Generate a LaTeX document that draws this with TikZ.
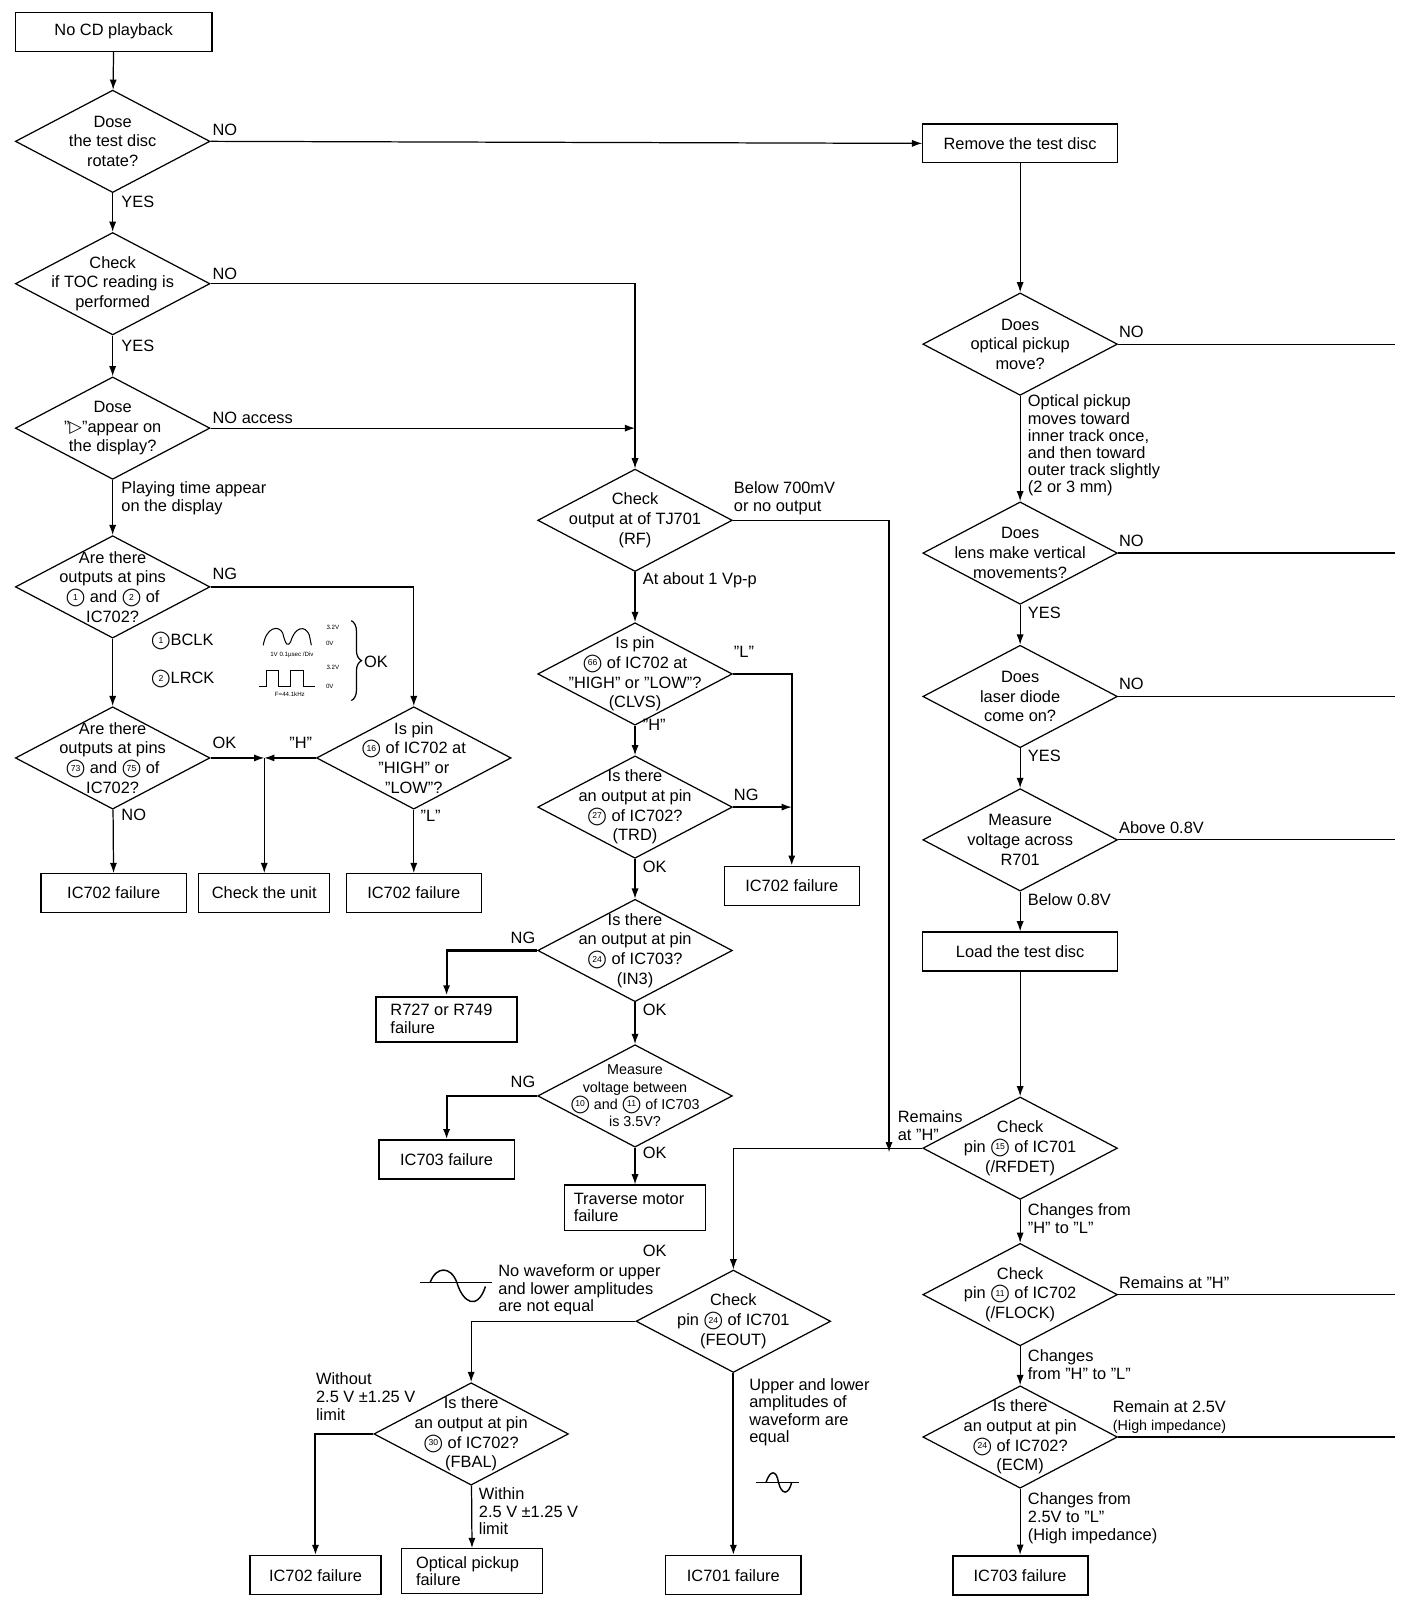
\documentclass[tikz,border=0pt]{standalone}
\usepackage{fontspec}
\setmainfont{Liberation Sans}
\newfontfamily\djv{DejaVu Sans}
\usetikzlibrary{shapes.geometric,arrows.meta,decorations.pathreplacing}
\newcommand\cn[1]{\smash{\ooalign{\hfil\raisebox{1.2pt}{\fontsize{4.2}{4.2}\selectfont #1}\hfil\crcr{\djv\fontsize{8.5}{8.5}\selectfont ◯}}}}
\begin{document}
\begin{tikzpicture}[x=0.5pt,y=-0.5pt,line width=0.6pt,
 every node/.style={font=\fontsize{8}{9.6}\selectfont},
 dia/.style={diamond,draw,minimum width=95pt,minimum height=50pt,inner sep=0pt},
 dt/.style={align=center,inner sep=0pt},
 box/.style={draw,minimum height=19pt,inner sep=2pt},
 lab/.style={anchor=west,inner sep=1pt},
 labn/.style={anchor=north west,align=left,inner sep=1pt,font=\fontsize{8}{8.6}\selectfont},
 arr/.style={-{Latex[length=5pt,width=3.5pt]}},
 tiny/.style={font=\fontsize{3}{3.5}\selectfont,inner sep=0pt}]
\path[use as bounding box] (0,0) rectangle (1372,1568);
% ---------- column A
\node[box,minimum width=96pt] (b0) at (111,31) {No CD playback};
\node[dia] (d1) at (110,138) {}; \node[dt] at (d1) {Dose\\the test disc\\rotate?};
\node[dia] (d2) at (110,277) {}; \node[dt] at (d2) {Check\\if TOC reading is\\performed};
\node[dia] (d3) at (110,418) {}; \node[dt] at (d3) {Dose\\"{\djv ▷}"appear on\\the display?};
\node[dia] (d4) at (110,573) {}; \node[dt] at (d4) {Are there\\outputs at pins\\\cn{1} and \cn{2} of\\IC702?};
\node[dia] (d5) at (110,740) {}; \node[dt] at (d5) {Are there\\outputs at pins\\\cn{73} and \cn{75} of\\IC702?};
\node[dia] (d6) at (404,740) {}; \node[dt] at (d6) {Is pin\\\cn{16} of IC702 at\\"HIGH" or\\"LOW"?};
\node[box,minimum width=71pt] (f1) at (111,872) {IC702 failure};
\node[box,minimum width=64pt] (cu) at (258,872) {Check the unit};
\node[box,minimum width=66pt] (f2) at (404,872) {IC702 failure};
\coordinate (j1) at (258,740);
\draw[arr] (b0) -- (d1);
\draw[arr] (d1) -- (d2);
\draw[arr] (d2) -- (d3);
\draw[arr] (d3) -- (d4);
\draw[arr] (d4) -- (d5);
\draw[arr] (d5) -- (f1);
\draw[arr] (d4.east) -| (d6.north);
\draw[arr] (d5.east) -- (j1);
\draw[arr] (d6.west) -- (j1);
\draw[arr] (j1) -- (cu);
\draw[arr] (d6) -- (f2);
\node[lab] at (205,127) {NO};
\node[lab] at (116,197) {YES};
\node[lab] at (205,267) {NO};
\node[lab] at (116,338) {YES};
\node[lab] at (205,408) {NO access};
\node[labn] at (116,468) {Playing time appear\\on the display};
\node[lab] at (205,560) {NG};
\node[lab] at (145,625) {\cn{1}BCLK};
\node[lab] at (145,662) {\cn{2}LRCK};
\node[lab] at (205,725) {OK};
\node[lab] at (280,725) {"H"};
\node[lab] at (116,796) {NO};
\node[lab] at (408,797) {"L"};
% waveforms
\draw[line width=0.5pt] (257,630) .. controls (260,612) and (272,610) .. (276,618) .. controls (279,630) and (281,632) .. (284,626) .. controls (288,612) and (298,610) .. (302,620) -- (304,630);
\draw[line width=0.5pt] (253,670) -- (260,670) -- (260,655) -- (272,655) -- (272,670) -- (284,670) -- (284,655) -- (296,655) -- (296,670) -- (308,670);
\node[tiny] at (325,613) {3.2V}; \node[tiny] at (322,628) {0V};
\node[tiny] at (285,639) {1V 0.1μsec /Div};
\node[tiny] at (325,652) {3.2V}; \node[tiny] at (322,670) {0V};
\node[tiny] at (283,678) {F=44.1kHz};
\draw[decorate,decoration={brace,amplitude=5pt}] (343,606) -- (343,684);
\node[lab] at (353,646) {OK};
% ---------- column B
\node[dia] (d7) at (620,508) {}; \node[dt] at (d7) {Check\\output at of TJ701\\(RF)};
\node[dia] (d8) at (620,658) {}; \node[dt] at (d8) {Is pin\\\cn{66} of IC702 at\\"HIGH" or "LOW"?\\(CLVS)};
\node[dia] (d9) at (620,788) {}; \node[dt] at (d9) {Is there\\an output at pin\\\cn{27} of IC702?\\(TRD)};
\node[dia] (d10) at (620,928) {}; \node[dt] at (d10) {Is there\\an output at pin\\\cn{24} of IC703?\\(IN3)};
\node[dia] (d11) at (620,1070) {}; \node[dt,font=\fontsize{7}{8.4}\selectfont] at (d11) {Measure\\voltage between\\\cn{10} and \cn{11} of IC703\\is 3.5V?};
\node[box,minimum width=66pt] (f3) at (773,865) {IC702 failure};
\node[box,minimum width=69pt,minimum height=22pt,align=left,font=\fontsize{8}{8.6}\selectfont,line width=1pt] (r7) at (436,995) {R727 or R749\\failure\hspace*{33pt}};
\node[box,minimum width=66pt] (f4) at (436,1132) {IC703 failure};
\node[box,minimum width=69pt,minimum height=22pt,align=left,font=\fontsize{8}{8.6}\selectfont] (tm) at (620,1179) {Traverse motor\\failure\hspace*{38pt}};
\coordinate (jr) at (620,418);
\draw[arr] (d2.east) -| (d7.north);
\draw[arr] (d3.east) -- (jr);
\draw[arr] (d7) -- (d8);
\draw[arr] (d8) -- (d9);
\draw[arr] (d9) -- (d10);
\draw[arr] (d10) -- (d11);
\draw[arr] (d11) -- (tm);
\draw[arr,line width=1pt] (d8.east) -| (f3.north);
\draw[arr] (d9.east) -- (f3.north |- d9.east);
\draw[arr,line width=1pt] (d10.west) -| (r7.north);
\draw[arr,line width=1pt] (d11.west) -| (f4.north);
\node[labn] at (714,468) {Below 700mV\\or no output};
\node[lab] at (625,567) {At about 1 Vp-p};
\node[lab] at (714,636) {"L"};
\node[lab] at (625,708) {"H"};
\node[lab] at (714,776) {NG};
\node[lab] at (625,846) {OK};
\node[lab] at (496,916) {NG};
\node[lab] at (625,986) {OK};
\node[lab] at (496,1056) {NG};
\node[lab] at (625,1126) {OK};
% ---------- lower middle
\node[dia] (d12) at (716,1290) {}; \node[dt] at (d12) {Check\\pin \cn{24} of IC701\\(FEOUT)};
\node[dia] (d13) at (460,1400) {}; \node[dt] at (d13) {Is there\\an output at pin\\\cn{30} of IC702?\\(FBAL)};
\node[box,minimum width=64pt] (f5) at (308,1538) {IC702 failure};
\node[box,minimum width=69pt,minimum height=22pt,align=left,font=\fontsize{8}{8.6}\selectfont] (op) at (461,1534) {Optical pickup\\failure\hspace*{33pt}};
\node[box,minimum width=66pt] (f6) at (716,1538) {IC701 failure};
\draw[arr] (d12.west) -| (d13.north);
\draw[arr,line width=1pt] (d13.west) -| (f5.north);
\draw[arr] (d13) -- (op);
\draw[arr,line width=1pt] (d12) -- (f6);
\node[lab] at (625,1221) {OK};
\node[labn] at (484,1232) {No waveform or upper\\and lower amplitudes\\are not equal};
\node[labn] at (306,1338) {Without\\2.5 V ±1.25 V\\limit};
\node[labn] at (465,1450) {Within\\2.5 V ±1.25 V\\limit};
\node[labn] at (729,1343) {Upper and lower\\amplitudes of\\waveform are\\equal};
\draw[line width=0.5pt] (410,1252) -- (480,1252);
\draw[line width=0.7pt] (420,1252) .. controls (426,1236) and (440,1236) .. (446,1252) .. controls (452,1272) and (466,1280) .. (474,1256);
\draw[line width=0.5pt] (738,1447) -- (780,1447);
\draw[line width=0.7pt] (748,1447) .. controls (752,1435) and (758,1435) .. (760,1447) .. controls (763,1460) and (770,1460) .. (773,1447);
% ---------- column C
\node[box,minimum width=95pt] (rt) at (996,140) {Remove the test disc};
\node[dia] (d14) at (996,336) {}; \node[dt] at (d14) {Does\\optical pickup\\move?};
\node[dia] (d15) at (996,540) {}; \node[dt] at (d15) {Does\\lens make vertical\\movements?};
\node[dia] (d16) at (996,680) {}; \node[dt] at (d16) {Does\\laser diode\\come on?};
\node[dia] (d17) at (996,820) {}; \node[dt] at (d17) {Measure\\voltage across\\R701};
\node[box,minimum width=95pt] (lt) at (996,929) {Load the test disc};
\node[dia] (d18) at (996,1121) {}; \node[dt] at (d18) {Check\\pin \cn{15} of IC701\\(/RFDET)};
\node[dia] (d19) at (996,1264) {}; \node[dt] at (d19) {Check\\pin \cn{11} of IC702\\(/FLOCK)};
\node[dia] (d20) at (996,1403) {}; \node[dt] at (d20) {Is there\\an output at pin\\\cn{24} of IC702?\\(ECM)};
\node[box,minimum width=66pt,line width=1pt] (f7) at (996,1538) {IC703 failure};
\coordinate (e14) at (1362,336);
\coordinate (e15) at (1362,540);
\coordinate (e16) at (1362,680);
\coordinate (e17) at (1362,820);
\coordinate (e19) at (1362,1264);
\coordinate (e20) at (1362,1403);
\coordinate (j2) at (868,1125);
\draw[arr] (d1.east) -- (rt.west);
\draw[arr] (rt) -- (d14);
\draw[arr] (d14) -- (d15);
\draw[arr] (d15) -- (d16);
\draw[arr] (d16) -- (d17);
\draw[arr] (d17) -- (lt);
\draw[arr] (lt) -- (d18);
\draw[arr] (d18) -- (d19);
\draw[arr] (d19) -- (d20);
\draw[arr] (d20) -- (f7);
\draw (d14.east) -- (e14);
\draw (d15.east) -- (e15);
\draw (d16.east) -- (e16);
\draw (d17.east) -- (e17);
\draw (d19.east) -- (e19);
\draw (d20.east) -- (e20);
\draw[arr] (d7.east) -| (j2);
\draw[arr] (d18.west) -| (d12.north);
\node[lab] at (1090,324) {NO};
\node[labn,font=\fontsize{8}{8.4}\selectfont] at (1001,383) {Optical pickup\\moves toward\\inner track once,\\and then toward\\outer track slightly\\(2 or 3 mm)};
\node[lab] at (1090,528) {NO};
\node[lab] at (1001,598) {YES};
\node[lab] at (1090,668) {NO};
\node[lab] at (1001,738) {YES};
\node[lab] at (1090,808) {Above 0.8V};
\node[lab] at (1001,878) {Below 0.8V};
\node[labn] at (874,1082) {Remains\\at "H"};
\node[labn] at (1001,1173) {Changes from\\"H" to "L"};
\node[lab] at (1090,1252) {Remains at "H"};
\node[labn] at (1001,1315) {Changes\\from "H" to "L"};
\node[labn] at (1084,1365) {Remain at 2.5V\\{\fontsize{7}{8}\selectfont(High impedance)}};
\node[labn] at (1001,1455) {Changes from\\2.5V to "L"\\(High impedance)};
\end{tikzpicture}
\end{document}
